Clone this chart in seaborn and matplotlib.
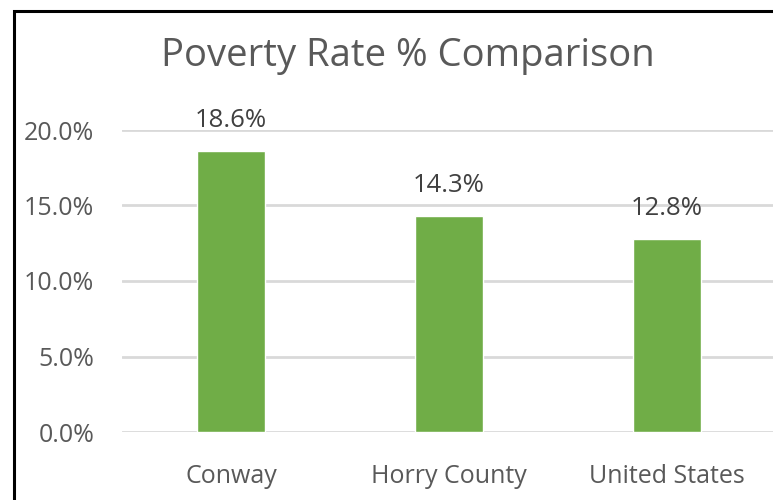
import matplotlib
matplotlib.use("Agg")
import matplotlib.pyplot as plt
from matplotlib.lines import Line2D
from matplotlib.ticker import FuncFormatter
import seaborn as sns
import pandas as pd

# Data
regions = ["Conway", "Horry County", "United States"]
poverty_rate = [18.6, 14.3, 12.8]
y_ticks = [0, 5, 10, 15, 20]

sns.set_theme(style="white")
plt.rcParams["font.family"] = ["Open Sans", "DejaVu Sans"]

W, H = 773, 500
fig = plt.figure(figsize=(W / 100, H / 100), dpi=100)
fig.patch.set_facecolor("white")

# chart frame: only left and top edges fall inside the image
frame_x, frame_y = 14 / W, (H - 11) / H
fig.lines.append(Line2D([frame_x, frame_x, 1.0], [0.0, frame_y, frame_y],
                        transform=fig.transFigure, color="black",
                        linewidth=2.2, solid_joinstyle="miter"))

ax = fig.add_axes([122 / W, (H - 432) / H, (776 - 122) / W, (432 - 130) / H])
df = pd.DataFrame({"region": regions, "rate": poverty_rate})
sns.barplot(data=df, x="region", y="rate", color="#70ad47", width=0.31,
            saturation=1, ax=ax)

ax.set_ylim(0, 20)
ax.set_xlim(-0.5, 2.5)
ax.set_yticks(y_ticks)
ax.yaxis.set_major_formatter(FuncFormatter(lambda v, p: f"{v:.1f}%"))
ax.grid(axis="y", color="#d9d9d9", linewidth=2)
ax.set_axisbelow(True)
for s in ax.spines.values():
    s.set_visible(False)
ax.tick_params(axis="both", length=0, labelsize=18, labelcolor="#595959")
ax.tick_params(axis="y", pad=20)
ax.tick_params(axis="x", pad=23)
ax.set_xlabel("")
ax.set_ylabel("")

for c in ax.containers:
    ax.bar_label(c, fmt="%.1f%%", padding=13, fontsize=18.5, color="#404040")

fig.text(408 / W, (H - 56) / H, "Poverty Rate % Comparison", ha="center",
         va="center", fontsize=27.5, color="#595959")

fig.savefig("out.png", dpi=100)
